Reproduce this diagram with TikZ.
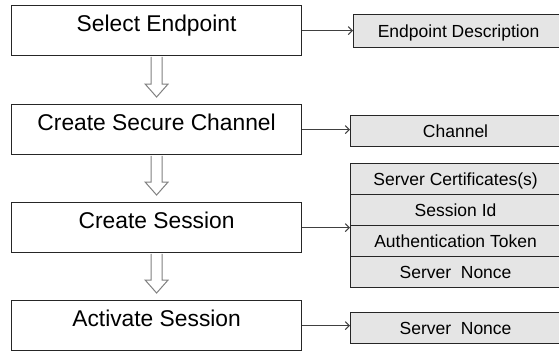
\documentclass[tikz,border=0pt]{standalone}
\usepackage{fontspec}
\setmainfont{Liberation Sans}
\usetikzlibrary{arrows.meta,calc}
\newcommand\hollowarrow[2]{%
  \draw[hollow] let \p1=(#1.south), \p2=(#2.north) in
    (\x1-5.5pt,\y1-0.7pt) -- (\x1-5.5pt,\y2+20pt) -- (\x1-11.5pt,\y2+20pt)
    -- (\x1,\y2+7pt) -- (\x1+11.5pt,\y2+20pt) -- (\x1+5.5pt,\y2+20pt)
    -- (\x1+5.5pt,\y1-0.7pt);}
\begin{document}
\begin{tikzpicture}[x=1pt,y=-1pt,
  stepbox/.style={draw=black!85, line width=1.2pt, minimum width=290pt,
    minimum height=50pt, inner sep=0pt, font=\fontsize{22.8}{26}\selectfont,
    text height=12pt, text depth=10pt, anchor=north west},
  databox/.style={draw=black!85, line width=1.1pt, fill=black!10,
    minimum width=210pt, minimum height=31pt, inner sep=0pt,
    font=\fontsize{17.5}{20}\selectfont, text height=14pt, text depth=2pt,
    anchor=north west},
  link/.style={draw=black!75, line width=1pt,
    -{Straight Barb[length=4pt,width=8pt]}},
  hollow/.style={draw=black!50, line width=1pt, fill=white}]
\useasboundingbox (0,0) rectangle (559,351);
\node[stepbox] (s1) at (11,5) {Select Endpoint};
\node[stepbox] (s2) at (11,104) {Create Secure Channel};
\node[stepbox] (s3) at (11,202) {Create Session};
\node[stepbox] (s4) at (11,300) {Activate Session};
\node[databox, minimum height=33pt] (d1) at (353,14) {Endpoint Description};
\node[databox] (d2) at (350,115) {Channel};
\node[databox] (c1) at (350,163) {Server Certificates(s)};
\node[databox] (c2) at (350,194) {Session Id};
\node[databox] (c3) at (350,225) {Authentication Token};
\node[databox] (c4) at (350,256) {Server\ \ Nonce};
\node[databox] (d4) at (350,312) {Server\ \ Nonce};
\draw[link] (s1.east) -- (s1.east -| d1.west);
\draw[link] (s2.east) -- (s2.east -| d2.west);
\draw[link] (s3.east) -- (s3.east -| c2.west);
\draw[link] (s4.east) -- (s4.east -| d4.west);
\hollowarrow{s1}{s2}
\hollowarrow{s2}{s3}
\hollowarrow{s3}{s4}
\end{tikzpicture}
\end{document}
